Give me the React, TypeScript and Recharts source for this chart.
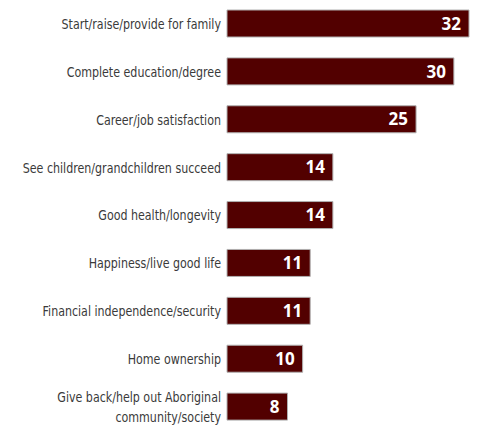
import { BarChart, Bar, XAxis, YAxis, LabelList } from "recharts";

const categories = [
  "Start/raise/provide for family",
  "Complete education/degree",
  "Career/job satisfaction",
  "See children/grandchildren succeed",
  "Good health/longevity",
  "Happiness/live good life",
  "Financial independence/security",
  "Home ownership",
  "Give back/help out Aboriginal\ncommunity/society",
];
const values = [32, 30, 25, 14, 14, 11, 11, 10, 8];

const data = categories.map((name, i) => ({ name, value: values[i] }));

// no condensed Myriad here, so squeeze DejaVu Condensed a bit
function CategoryTick(props: any) {
  const { x, y, payload } = props;
  const lines = String(payload.value).split("\n");
  const lineH = 20;
  const start = -((lines.length - 1) * lineH) / 2;
  return (
    <g transform={`translate(${x} ${y}) scale(0.88 1)`}>
      <text
        x={0}
        y={0}
        textAnchor="end"
        fill="#3a3a3a"
        fontSize={14}
        fontFamily="'DejaVu Sans Condensed', sans-serif"
      >
        {lines.map((l, i) => (
          <tspan key={i} x={0} y={start + i * lineH} dy="0.35em">
            {l}
          </tspan>
        ))}
      </text>
    </g>
  );
}

function ValueLabel(props: any) {
  const { x, y, width, height, value } = props;
  return (
    <text
      x={x + width - 8}
      y={y + height / 2}
      dy="0.36em"
      textAnchor="end"
      fill="#ffffff"
      fontSize={17}
      fontWeight="bold"
      fontFamily="'Open Sans', sans-serif"
    >
      {value}
    </text>
  );
}

export default function App() {
  return (
    <div style={{ position: "absolute", left: 0, top: 0, background: "#fff" }}>
      <BarChart
        width={479}
        height={431}
        data={data}
        layout="vertical"
        margin={{ top: 0, right: 10, bottom: 0, left: 0 }}
        barSize={27}
      >
        <XAxis type="number" domain={[0, 32]} hide />
        <YAxis
          type="category"
          dataKey="name"
          width={227}
          axisLine={false}
          tickLine={false}
          tickMargin={0}
          interval={0}
          tick={<CategoryTick />}
        />
        <Bar
          dataKey="value"
          fill="#520000"
          stroke="#b0b0b0"
          strokeWidth={1}
          isAnimationActive={false}
        >
          <LabelList dataKey="value" content={<ValueLabel />} />
        </Bar>
      </BarChart>
    </div>
  );
}
